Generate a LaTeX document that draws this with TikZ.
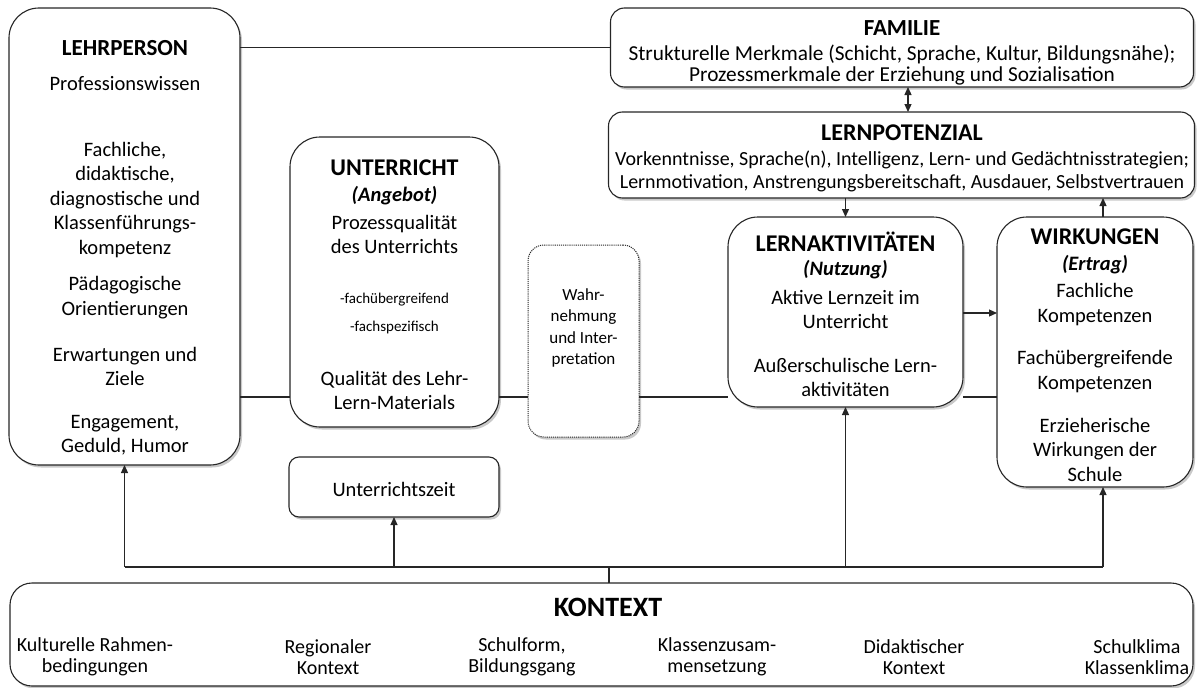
\documentclass[tikz,border=0pt]{standalone}
\usepackage{fontspec}
\setmainfont{Carlito}
\usetikzlibrary{arrows.meta,shadows}

\begin{document}
\begin{tikzpicture}[x=1pt,y=-1pt,
  box/.style={draw=black!85, line width=1.1pt, fill=white, inner sep=0pt, outer sep=0pt,
    drop shadow={shadow xshift=2pt, shadow yshift=-2.5pt, opacity=0.3, fill=black!70}},
  txt/.style={align=center, inner sep=0pt, font=\fontsize{20.5}{24.5}\selectfont},
  small/.style={align=center, inner sep=0pt, font=\fontsize{15}{18}\selectfont},
  ttl/.style={align=center, inner sep=0pt, font=\bfseries\fontsize{24}{28}\selectfont},
  sub/.style={align=center, inner sep=0pt, font=\bfseries\itshape\fontsize{20.5}{24.5}\selectfont},
  kontxt/.style={align=center, inner sep=0pt, font=\fontsize{20}{20.5}\selectfont},
  conn/.style={line width=1.2pt, draw=black!85},
  tip/.tip={Triangle[length=8pt,width=7pt]}
]
\useasboundingbox (0,0) rectangle (1203,688);

% boxes
\node[box, rounded corners=30pt, minimum width=231pt, minimum height=457pt] (lehr) at (124.5,236.5) {};
\node[box, rounded corners=14pt, minimum width=583pt, minimum height=79pt] (fam) at (902,47.5) {};
\node[box, rounded corners=14pt, minimum width=586pt, minimum height=86pt] (pot) at (901.5,155) {};
\node[box, rounded corners=30pt, minimum width=209pt, minimum height=290pt] (unt) at (394.5,282) {};
\node[box, densely dotted, line width=1pt, rounded corners=16pt, minimum width=111pt, minimum height=192pt] (wahr) at (583.5,341) {};
\node[box, rounded corners=30pt, minimum width=235pt, minimum height=190pt] (lakt) at (845.5,312) {};
\node[box, rounded corners=30pt, minimum width=196pt, minimum height=270pt] (wirk) at (1095,352) {};
\node[box, rounded corners=10pt, minimum width=210pt, minimum height=60pt] (uzeit) at (394,487) {};
\node[box, rounded corners=22pt, minimum width=1183pt, minimum height=103pt] (kon) at (601.5,634.5) {};

% LEHRPERSON
\node[ttl, font=\bfseries\fontsize{23}{27}\selectfont] (lehrT) at (125,48) {LEHRPERSON};
\node[txt] (lehr1) at (125,84) {Professionswissen};
\node[txt] (lehr2) at (125,200) {Fachliche,\\didaktische,\\diagnostische und\\Klassenführungs-\\kompetenz};
\node[txt] (lehr3) at (125,297.5) {Pädagogische\\Orientierungen};
\node[txt] (lehr4) at (125,366.5) {Erwartungen und\\Ziele};
\node[txt] (lehr5) at (125,435) {Engagement,\\Geduld, Humor};

% UNTERRICHT
\node[ttl] (untT) at (394.5,168) {UNTERRICHT};
\node[sub] (untS) at (394.5,196) {(Angebot)};
\node[txt] (unt1) at (394.5,234.5) {Prozessqualität\\des Unterrichts};
\node[small] (unt2) at (394.5,300) {-fachübergreifend};
\node[small] (unt3) at (394.5,327) {-fachspezifisch};
\node[txt] (unt4) at (394.5,390.5) {Qualität des Lehr-\\Lern-Materials};

% Wahrnehmung
\node[align=center, inner sep=0pt, font=\fontsize{17}{21.3}\selectfont] (wahrT) at (583.5,328) {Wahr-\\nehmung\\und Inter-\\pretation};

% FAMILIE
\node[ttl, font=\bfseries\fontsize{23}{27}\selectfont] (famT) at (902,28) {FAMILIE};
\node[align=center, inner sep=0pt, font=\fontsize{21.3}{20.5}\selectfont] (fam1) at (902,65) {Strukturelle Merkmale (Schicht, Sprache, Kultur, Bildungsnähe);\\Prozessmerkmale der Erziehung und Sozialisation};

% LERNPOTENZIAL
\node[ttl] (potT) at (902,133) {LERNPOTENZIAL};
\node[align=center, inner sep=0pt, font=\fontsize{20}{23}\selectfont] (pot1) at (902,171) {Vorkenntnisse, Sprache(n), Intelligenz, Lern- und Gedächtnisstrategien;\\Lernmotivation, Anstrengungsbereitschaft, Ausdauer, Selbstvertrauen};

% LERNAKTIVITAETEN
\node[ttl] (laktT) at (845.5,242) {LERNAKTIVITÄTEN};
\node[sub] (laktS) at (845.5,270) {(Nutzung)};
\node[txt] (lakt1) at (845.5,309.5) {Aktive Lernzeit im\\Unterricht};
\node[txt] (lakt2) at (845.5,377.5) {Außerschulische Lern-\\aktivitäten};

% WIRKUNGEN
\node[ttl] (wirkT) at (1095,237) {WIRKUNGEN};
\node[sub] (wirkS) at (1095,265) {(Ertrag)};
\node[txt] (wirk1) at (1095,304.5) {Fachliche\\Kompetenzen};
\node[txt] (wirk2) at (1095,371.5) {Fachübergreifende\\Kompetenzen};
\node[txt] (wirk3) at (1095,449.5) {Erzieherische\\Wirkungen der\\Schule};

% Unterrichtszeit
\node[txt] (uzeitT) at (394,489) {Unterrichtszeit};

% KONTEXT
\node[ttl, font=\bfseries\fontsize{28}{32}\selectfont] (konT) at (608,607) {KONTEXT};
\node[kontxt] (kon1) at (95,657) {Kulturelle Rahmen-\\bedingungen};
\node[kontxt] (kon2) at (328,657) {Regionaler\\Kontext};
\node[kontxt] (kon3) at (522,657) {Schulform,\\Bildungsgang};
\node[kontxt] (kon4) at (717,657) {Klassenzusam-\\mensetzung};
\node[kontxt] (kon5) at (914,657) {Didaktischer\\Kontext};
\node[kontxt] (kon6) at (1137,657) {Schulklima\\Klassenklima};

% helper coordinates for connector routing
\coordinate (dx) at (908,0);
\coordinate (wx) at (1103,0);
\coordinate (ay) at (0,313);
\coordinate (hy) at (0,397);
\coordinate (bus) at (609,567);

% connectors
\draw[conn] (lehr.east |- fam.west) -- (fam.west);
\draw[conn, tip-tip] (fam.south -| dx) -- (pot.north -| dx);
\draw[conn, -tip] (pot.south -| lakt.north) -- (lakt.north);
\draw[conn, -tip] (wx |- wirk.north) -- (wx |- pot.south);
\draw[conn, -tip] (lakt.east |- ay) -- (wirk.west |- ay);
\draw[conn] (lehr.east |- hy) -- (unt.west |- hy);
\draw[conn] (unt.east |- hy) -- (wahr.west |- hy);
\draw[conn] (wahr.east |- hy) -- (lakt.west |- hy);
\draw[conn] (lakt.east |- hy) -- (wirk.west |- hy);

% context bus
\draw[conn] (kon.north -| bus) -- (bus);
\draw[conn] (lehr.south |- bus) -- (wx |- bus);
\draw[conn, -tip] (lehr.south |- bus) -- (lehr.south);
\draw[conn, -tip] (uzeit.south |- bus) -- (uzeit.south);
\draw[conn, -tip] (lakt.south |- bus) -- (lakt.south);
\draw[conn, -tip] (wx |- bus) -- (wx |- wirk.south);
\end{tikzpicture}
\end{document}
